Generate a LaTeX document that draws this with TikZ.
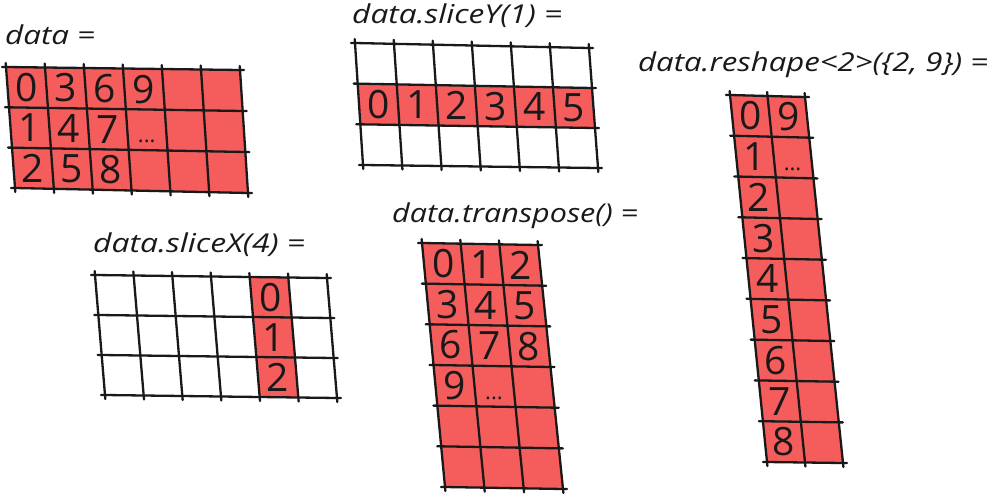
\documentclass[tikz,border=0pt]{standalone}
\usepackage{fontspec}
\usepackage{graphicx}
\setmainfont{Open Sans}
\usetikzlibrary{calc}
\definecolor{cellred}{RGB}{245,93,93}
\definecolor{inkline}{RGB}{25,25,25}
\tikzset{
  gline/.style={draw=inkline, line width=2.3pt, line cap=round, shorten <=-4pt, shorten >=-4pt},
  digit/.style={font=\fontsize{39}{39}\selectfont, inner sep=0pt, text=inkline},
  dotsty/.style={font=\fontsize{22}{22}\selectfont, inner sep=0pt, text=inkline, yshift=-12pt},
  lbl/.style={font=\fontsize{26}{26}\selectfont\itshape, anchor=base west, inner sep=0pt, text=inkline},
}
% bilinear helpers
\newcommand\mkgrid[3]{%
  \foreach \i in {0,...,#2}{\pgfmathsetmacro\uu{\i/#2}%
    \draw[gline] ($(#1TL)!\uu!(#1TR)$) -- ($(#1BL)!\uu!(#1BR)$);}%
  \foreach \j in {0,...,#3}{\pgfmathsetmacro\vv{\j/#3}%
    \draw[gline] ($(#1TL)!\vv!(#1BL)$) -- ($(#1TR)!\vv!(#1BR)$);}%
}
\newcommand\quadfill[5]{%
  \fill[cellred] ($($(#1TL)!#2!(#1TR)$)!#4!($(#1BL)!#2!(#1BR)$)$)
    -- ($($(#1TL)!#3!(#1TR)$)!#4!($(#1BL)!#3!(#1BR)$)$)
    -- ($($(#1TL)!#3!(#1TR)$)!#5!($(#1BL)!#3!(#1BR)$)$)
    -- ($($(#1TL)!#2!(#1TR)$)!#5!($(#1BL)!#2!(#1BR)$)$) -- cycle;}
\newcommand\dig[7][digit]{% [style] grid, i, j, cols, rows, text
  \pgfmathsetmacro\uu{(#3+0.5)/#5}\pgfmathsetmacro\vv{(#4+0.5)/#6}%
  \node[#1] (#2d#3#4) at ($($(#2TL)!\uu!(#2TR)$)!\vv!($(#2BL)!\uu!(#2BR)$)$) {#7};}
\begin{document}
\begin{tikzpicture}[x=1pt,y=-1pt]
\useasboundingbox (0,0) rectangle (1000,500);
% ---------- corners ----------
\coordinate (ATL) at (6,67);   \coordinate (ATR) at (240,70);
\coordinate (ABL) at (15,188); \coordinate (ABR) at (248,193);
\coordinate (BTL) at (355,43);  \coordinate (BTR) at (589,48);
\coordinate (BBL) at (363,165); \coordinate (BBR) at (598,168);
\coordinate (CTL) at (730,95);  \coordinate (CTR) at (805,97);
\coordinate (CBL) at (767,462); \coordinate (CBR) at (843,463);
\coordinate (DTL) at (95,275);  \coordinate (DTR) at (327,278);
\coordinate (DBL) at (105,395); \coordinate (DBR) at (337,398);
\coordinate (ETL) at (422,243); \coordinate (ETR) at (538,245);
\coordinate (EBL) at (445,487); \coordinate (EBR) at (563,489);
% ---------- fills ----------
\quadfill{A}{0}{1}{0}{1}
\quadfill{B}{0}{1}{0.3333}{0.6667}
\quadfill{C}{0}{1}{0}{1}
\quadfill{D}{0.6667}{0.8333}{0}{1}
\quadfill{E}{0}{1}{0}{1}
% ---------- grids ----------
\mkgrid{A}{6}{3}
\mkgrid{B}{6}{3}
\mkgrid{C}{2}{9}
\mkgrid{D}{6}{3}
\mkgrid{E}{3}{6}
% ---------- labels ----------
\node[lbl] (lA) at (5,45)   {\resizebox{90pt}{\height}{data =}};
\node[lbl] (lB) at (352,24) {\resizebox{210pt}{\height}{data.sliceY(1) =}};
\node[lbl] (lC) at (638,72) {\resizebox{350pt}{\height}{data.reshape<2>(\{2, 9\}) =}};
\node[lbl] (lD) at (93,252) {\resizebox{212pt}{\height}{data.sliceX(4) =}};
\node[lbl] (lE) at (392,222){\resizebox{246pt}{\height}{data.transpose() =}};
% ---------- digits: data ----------
\dig{A}{0}{0}{6}{3}{0}\dig{A}{1}{0}{6}{3}{3}\dig{A}{2}{0}{6}{3}{6}\dig{A}{3}{0}{6}{3}{9}
\dig{A}{0}{1}{6}{3}{1}\dig{A}{1}{1}{6}{3}{4}\dig{A}{2}{1}{6}{3}{7}\dig[dotsty]{A}{3}{1}{6}{3}{...}
\dig{A}{0}{2}{6}{3}{2}\dig{A}{1}{2}{6}{3}{5}\dig{A}{2}{2}{6}{3}{8}
% ---------- digits: sliceY ----------
\dig{B}{0}{1}{6}{3}{0}\dig{B}{1}{1}{6}{3}{1}\dig{B}{2}{1}{6}{3}{2}
\dig{B}{3}{1}{6}{3}{3}\dig{B}{4}{1}{6}{3}{4}\dig{B}{5}{1}{6}{3}{5}
% ---------- digits: reshape ----------
\dig{C}{0}{0}{2}{9}{0}\dig{C}{1}{0}{2}{9}{9}
\dig{C}{0}{1}{2}{9}{1}\dig[dotsty]{C}{1}{1}{2}{9}{...}
\dig{C}{0}{2}{2}{9}{2}\dig{C}{0}{3}{2}{9}{3}\dig{C}{0}{4}{2}{9}{4}
\dig{C}{0}{5}{2}{9}{5}\dig{C}{0}{6}{2}{9}{6}\dig{C}{0}{7}{2}{9}{7}
\dig{C}{0}{8}{2}{9}{8}
% ---------- digits: sliceX ----------
\dig{D}{4}{0}{6}{3}{0}\dig{D}{4}{1}{6}{3}{1}\dig{D}{4}{2}{6}{3}{2}
% ---------- digits: transpose ----------
\dig{E}{0}{0}{3}{6}{0}\dig{E}{1}{0}{3}{6}{1}\dig{E}{2}{0}{3}{6}{2}
\dig{E}{0}{1}{3}{6}{3}\dig{E}{1}{1}{3}{6}{4}\dig{E}{2}{1}{3}{6}{5}
\dig{E}{0}{2}{3}{6}{6}\dig{E}{1}{2}{3}{6}{7}\dig{E}{2}{2}{3}{6}{8}
\dig{E}{0}{3}{3}{6}{9}\dig[dotsty]{E}{1}{3}{3}{6}{...}
\end{tikzpicture}
\end{document}
